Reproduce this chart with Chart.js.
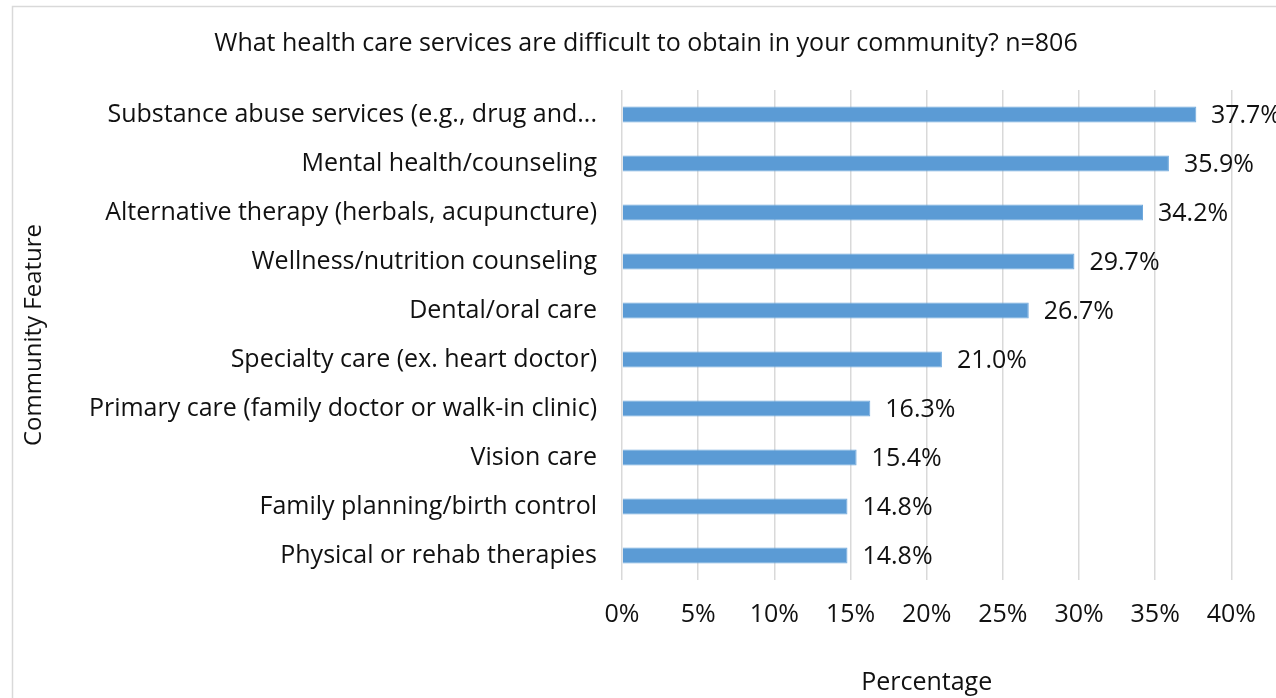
<!DOCTYPE html>
<html>
<head>
<meta charset="utf-8">
<script src="https://cdn.jsdelivr.net/npm/chart.js@4"></script>
<style>
  html, body { margin: 0; padding: 0; background: #fff; }
  #wrap { width: 1276px; height: 698px; }
</style>
</head>
<body>
<div id="wrap"><canvas id="chart"></canvas></div>
<script>
var categories = [
  'Substance abuse services (e.g., drug and...',
  'Mental health/counseling',
  'Alternative therapy (herbals, acupuncture)',
  'Wellness/nutrition counseling',
  'Dental/oral care',
  'Specialty care (ex. heart doctor)',
  'Primary care (family doctor or walk-in clinic)',
  'Vision care',
  'Family planning/birth control',
  'Physical or rehab therapies'
];
var percentValues = [37.7, 35.9, 34.2, 29.7, 26.7, 21.0, 16.3, 15.4, 14.8, 14.8];
var xTicks = [0, 5, 10, 15, 20, 25, 30, 35, 40];

var fontName = "'Open Sans', 'Liberation Sans', sans-serif";

// light frame round the chart, like the exported picture
var framePlugin = {
  id: 'frame',
  beforeDraw: function(chart) {
    var ctx = chart.ctx;
    ctx.save();
    ctx.strokeStyle = '#d9d9d9';
    ctx.lineWidth = 1.5;
    ctx.strokeRect(12.5, 6.5, chart.width + 20, chart.height + 20);
    ctx.restore();
  }
};

// value labels at the end of each bar, pulled back if they run off the edge
var labelPlugin = {
  id: 'barLabels',
  afterDatasetsDraw: function(chart) {
    var ctx = chart.ctx;
    var meta = chart.getDatasetMeta(0);
    ctx.save();
    ctx.font = '25px ' + fontName;
    ctx.fillStyle = '#111';
    ctx.textBaseline = 'middle';
    ctx.textAlign = 'left';
    meta.data.forEach(function(bar, i) {
      var txt = percentValues[i].toFixed(1) + '%';
      var w = ctx.measureText(txt).width;
      var x = Math.min(bar.x + 15, chart.width + 5 - w);
      ctx.fillText(txt, x, bar.y + 1);
    });
    ctx.restore();
  }
};

var canvas = document.getElementById('chart');
new Chart(canvas, {
  type: 'bar',
  data: {
    labels: categories,
    datasets: [{
      data: percentValues,
      backgroundColor: '#5b9bd5',
      borderColor: '#6fa8dc',
      borderWidth: 1,
      categoryPercentage: 1,
      barPercentage: 0.33
    }]
  },
  options: {
    indexAxis: 'y',
    responsive: true,
    maintainAspectRatio: false,
    animation: false,
    layout: { padding: { left: 16, right: 0, top: 0, bottom: 0 } },
    plugins: {
      legend: { display: false },
      tooltip: { enabled: false },
      title: {
        display: true,
        text: 'What health care services are difficult to obtain in your community? n=806',
        color: '#111',
        font: { family: fontName, size: 25, weight: 'normal' },
        padding: { top: 29, bottom: 31 }
      }
    },
    scales: {
      x: {
        min: 0,
        max: 40,
        afterBuildTicks: function(scale) {
          scale.ticks = xTicks.map(function(v) { return { value: v }; });
        },
        afterFit: function(scale) { scale.height = 118; },
        grid: { color: '#d9d9d9', lineWidth: 1.5, drawTicks: false },
        border: { display: false },
        ticks: {
          color: '#111',
          padding: 20,
          font: { family: fontName, size: 25 },
          callback: function(v) { return v + '%'; }
        },
        title: {
          display: true,
          text: 'Percentage',
          color: '#111',
          font: { family: fontName, size: 25 },
          padding: { top: 0, bottom: 0 }
        }
      },
      y: {
        afterFit: function(scale) { scale.width = 606; },
        grid: { display: false },
        border: { display: false },
        ticks: {
          color: '#111',
          padding: 17,
          font: { family: fontName, size: 25 }
        },
        title: {
          display: true,
          text: 'Community Feature',
          color: '#111',
          font: { family: fontName, size: 24 },
          padding: 4
        }
      },
      yRight: {
        type: 'category',
        position: 'right',
        afterFit: function(scale) { scale.width = 44; },
        grid: { display: false },
        border: { display: false },
        ticks: { display: false }
      }
    }
  },
  plugins: [framePlugin, labelPlugin]
});
</script>
</body>
</html>
